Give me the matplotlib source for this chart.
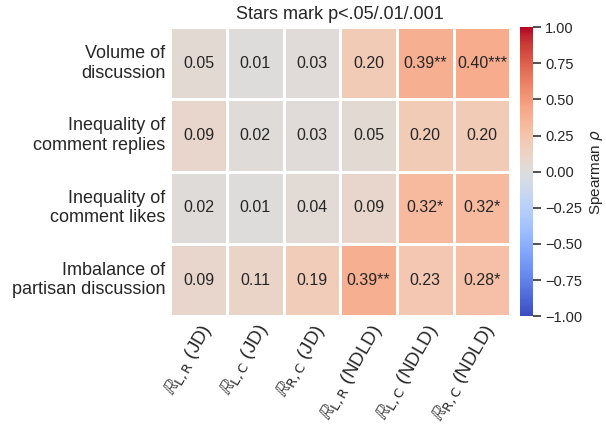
import numpy as np
import matplotlib
matplotlib.use("Agg")
import matplotlib.pyplot as plt
from matplotlib.ticker import FuncFormatter
import seaborn as sns

# metrics (rows) vs. measures (columns)
satirlar = ["Volume of\ndiscussion", "Inequality of\ncomment replies",
            "Inequality of\ncomment likes", "Imbalance of\npartisan discussion"]
sutunlar = [r"$\mathbb{R}_{\mathrm{L,R}}$ (JD)", r"$\mathbb{R}_{\mathrm{L,C}}$ (JD)",
            r"$\mathbb{R}_{\mathrm{R,C}}$ (JD)", r"$\mathbb{R}_{\mathrm{L,R}}$ (NDLD)",
            r"$\mathbb{R}_{\mathrm{L,C}}$ (NDLD)", r"$\mathbb{R}_{\mathrm{R,C}}$ (NDLD)"]

rho = np.array([
    [0.05, 0.01, 0.03, 0.20, 0.39, 0.40],
    [0.09, 0.02, 0.03, 0.05, 0.20, 0.20],
    [0.02, 0.01, 0.04, 0.09, 0.32, 0.32],
    [0.09, 0.11, 0.19, 0.39, 0.23, 0.28],
])
yildiz = [
    ["", "", "", "", "**", "***"],
    ["", "", "", "", "", ""],
    ["", "", "", "", "*", "*"],
    ["", "", "", "**", "", "*"],
]
cbar_ticks = [-1, -0.75, -0.5, -0.25, 0, 0.25, 0.5, 0.75, 1]

etiket = np.array([[f"{rho[i, j]:.2f}{yildiz[i][j]}" for j in range(rho.shape[1])]
                   for i in range(rho.shape[0])])

sns.set_theme(style="white")
plt.rcParams['font.family'] = ['Liberation Sans', 'DejaVu Sans']

fig = plt.figure(figsize=(6.06, 4.32), dpi=100)
ax = fig.add_axes([0.281, 0.268, 0.561, 0.669])
cax = fig.add_axes([0.858, 0.268, 0.021, 0.669])

sns.heatmap(rho, ax=ax, cbar_ax=cax, cmap="coolwarm", vmin=-1, vmax=1,
            annot=etiket, fmt="", annot_kws={"fontsize": 11.5, "color": "#262626"},
            linewidths=0.8, linecolor="white",
            xticklabels=sutunlar, yticklabels=satirlar,
            cbar_kws={"label": r"Spearman $\rho$", "ticks": cbar_ticks,
                      "format": FuncFormatter(lambda v, p: f"{v:.2f}".replace("-", "\u2212"))})

ax.set_title("Stars mark p<.05/.01/.001", fontsize=13)
ax.set_yticklabels(satirlar, rotation=0, fontsize=13, ha="right", multialignment="right")
ax.set_xticklabels(sutunlar, rotation=60, ha="right", rotation_mode="anchor", fontsize=13.5)
ax.tick_params(length=0)

# colorbar ticks
cax.tick_params(axis="y", right=True, length=6, width=1.25, color="#3a3a3a",
                labelsize=10.5, pad=3)
cax.yaxis.label.set_size(11)

fig.savefig("out.png", dpi=100)
